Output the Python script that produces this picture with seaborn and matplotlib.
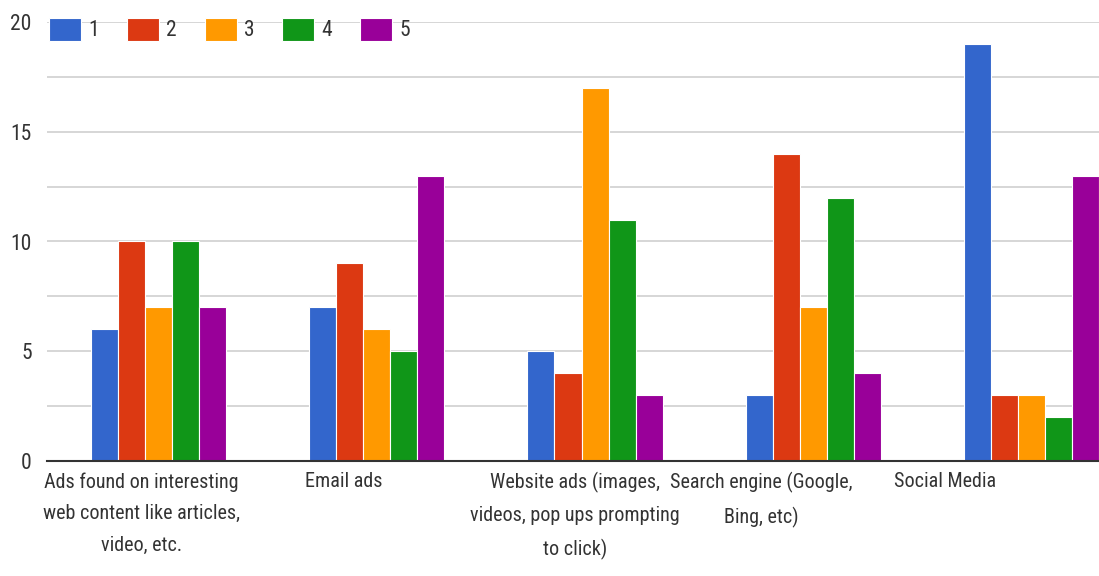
import matplotlib
matplotlib.use("Agg")
import matplotlib.pyplot as plt
import matplotlib.transforms as mtransforms
from matplotlib import font_manager
import seaborn as sns
import pandas as pd

categories = [
    "Ads found on interesting\nweb content like articles,\nvideo, etc.",
    "Email ads",
    "Website ads (images,\nvideos, pop ups prompting\nto click)",
    "Search engine (Google,\nBing, etc)",
    "Social Media",
]
series_names = ["1", "2", "3", "4", "5"]
values_1 = [6, 7, 5, 3, 19]
values_2 = [10, 9, 4, 14, 3]
values_3 = [7, 6, 17, 7, 3]
values_4 = [10, 5, 11, 12, 2]
values_5 = [7, 13, 3, 4, 13]
y_ticks = [0, 5, 10, 15, 20]

colors = ["#3366CC", "#DC3912", "#FF9900", "#109618", "#990099"]

rows = []
for name, vals in zip(series_names, [values_1, values_2, values_3, values_4, values_5]):
    for cat, v in zip(categories, vals):
        rows.append({"category": cat, "series": name, "value": v})
df = pd.DataFrame(rows)

sns.set_theme(style="white")
available = {f.name for f in font_manager.fontManager.ttflist}
narrow = [n for n in ["Roboto Condensed", "Liberation Sans Narrow", "Open Sans Condensed"] if n in available]
plt.rcParams["font.family"] = narrow + ["Roboto", "DejaVu Sans"]
fs = 15.5 if narrow else 12.5
fs_x = 14.5 if narrow else 11.5

fig = plt.figure(figsize=(10.99, 5.76), dpi=100)
ax = fig.add_axes([47 / 1099, (576 - 461) / 576, (1099 - 47) / 1099, (461 - 22) / 576])

sns.barplot(data=df, x="category", y="value", hue="series", order=categories,
            hue_order=series_names, palette=colors, width=0.62, gap=0,
            edgecolor="white", linewidth=0.8, saturation=1, ax=ax, legend=True)

ax.set_xlim(-0.511, 4.309)
ax.set_ylim(0, 20)
ax.set_yticks(y_ticks)
ax.set_yticks([2.5, 7.5, 12.5, 17.5], minor=True)
ax.grid(axis="y", which="both", color="#d0d0d0", linewidth=1.2)
ax.set_axisbelow(True)
for s in ["top", "right", "left"]:
    ax.spines[s].set_visible(False)
ax.spines["bottom"].set_color("#333333")
ax.spines["bottom"].set_linewidth(1.5)
ax.set_xlabel("")
ax.set_ylabel("")
ax.tick_params(axis="both", which="both", length=0)
ax.tick_params(axis="y", pad=11, labelsize=fs, labelcolor="#333333")
ax.tick_params(axis="x", pad=8, labelsize=fs_x, labelcolor="#333333")

label_offsets_px = [-17, -33, -20, -52, -86]
for lbl, off in zip(ax.get_xticklabels(), label_offsets_px):
    lbl.set_linespacing(1.85)
    lbl.set_verticalalignment("top")
    lbl.set_transform(lbl.get_transform() + mtransforms.ScaledTranslation(off / 100, 0, fig.dpi_scale_trans))

handles, labels = ax.get_legend_handles_labels()
ax.legend(handles, labels, ncol=5, frameon=False, loc="center left",
          bbox_to_anchor=(49 / 1099, 1 - 29.5 / 576), bbox_transform=fig.transFigure,
          fontsize=fs, handlelength=1.49, handleheight=1.26, handletextpad=0.33,
          columnspacing=1.3, labelcolor="#333333", borderaxespad=0, borderpad=0)

fig.savefig("out.png", dpi=100)
